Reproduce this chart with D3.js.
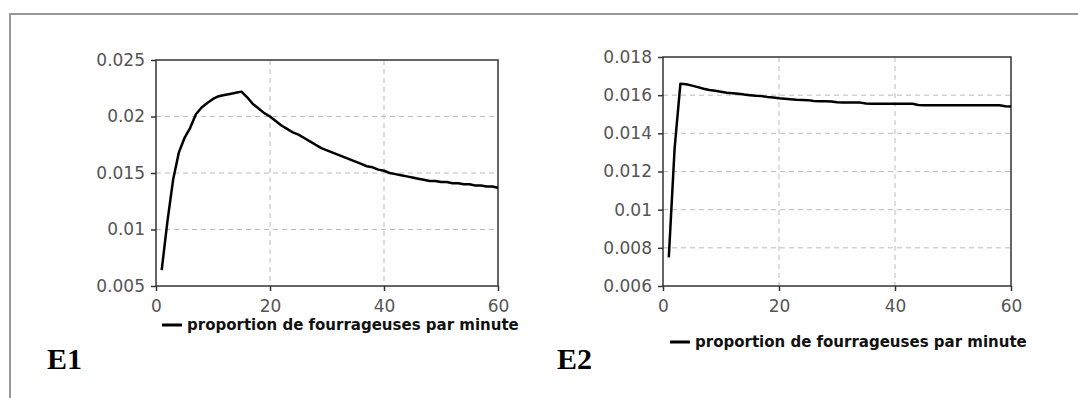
<!DOCTYPE html>
<html>
<head>
<meta charset="utf-8">
<script src="https://cdn.jsdelivr.net/npm/d3@7"></script>
<style>
  body { margin: 0; background: #fff; }
  .tick text { font-family: "DejaVu Sans", sans-serif; font-size: 17px; fill: #555; }
  .legend { font-family: "DejaVu Sans", sans-serif; font-size: 15px; font-weight: bold; fill: #111; }
  .tag { font-family: "Liberation Serif", serif; font-size: 30px; font-weight: bold; fill: #000; }
</style>
</head>
<body>
<div id="chart"></div>
<script>
// minutes 1..60
const minutes = [1,2,3,4,5,6,7,8,9,10,11,12,13,14,15,16,17,18,19,20,
  21,22,23,24,25,26,27,28,29,30,31,32,33,34,35,36,37,38,39,40,
  41,42,43,44,45,46,47,48,49,50,51,52,53,54,55,56,57,58,59,60];

// E1 : proportion de fourrageuses par minute
const e1Values = [0.0064,0.0107,0.0144,0.0168,0.0181,0.0190,0.0202,0.0208,0.0212,0.02155,
  0.0218,0.0219,0.0220,0.0221,0.0222,0.0217,0.0211,0.0207,0.0203,0.0200,
  0.0196,0.0192,0.0189,0.0186,0.0184,0.0181,0.0178,0.0175,0.0172,0.0170,
  0.0168,0.0166,0.0164,0.0162,0.0160,0.0158,0.0156,0.0155,0.0153,0.0152,
  0.0150,0.0149,0.0148,0.0147,0.0146,0.0145,0.0144,0.0143,0.0143,0.0142,
  0.0142,0.0141,0.0141,0.0140,0.0140,0.0139,0.0139,0.0138,0.0138,0.0137];

// E2 : proportion de fourrageuses par minute
const e2Values = [0.0075,0.0132,0.0166,0.01657,0.0165,0.01642,0.01634,0.01627,0.01623,0.01618,
  0.01613,0.0161,0.01607,0.01603,0.0160,0.01597,0.01595,0.01591,0.01588,0.01584,
  0.01581,0.01578,0.01576,0.01575,0.01574,0.0157,0.01568,0.01568,0.01567,0.01563,
  0.01562,0.01562,0.01561,0.01561,0.01556,0.01555,0.01555,0.01555,0.01555,0.01555,
  0.01555,0.01555,0.01555,0.01548,0.01547,0.01547,0.01547,0.01547,0.01547,0.01547,
  0.01547,0.01547,0.01547,0.01547,0.01547,0.01547,0.01547,0.01547,0.01542,0.0154];

const xTicks = [0, 20, 40, 60];
const yTicks1 = [0.005, 0.01, 0.015, 0.02, 0.025];
const yTicks2 = [0.006, 0.008, 0.01, 0.012, 0.014, 0.016, 0.018];
const legendLabel = "proportion de fourrageuses par minute";

const svg = d3.select('#chart').append('svg')
  .attr('width', 1078)
  .attr('height', 398);

// outer frame (top + left only)
svg.append('path')
  .attr('d', 'M10,398 V14 H1078')
  .attr('fill', 'none')
  .attr('stroke', '#999')
  .attr('stroke-width', 2);

function drawPanel(p) {
  let xScale = d3.scaleLinear().domain([0, 60]).range([p.left, p.right]);
  let yScale = d3.scaleLinear().domain(p.yDomain).range([p.bottom, p.top]);
  let fmt = d => String(+d.toFixed(3));

  let g = svg.append('g');

  //grid
  g.append('g').selectAll('line.gx')
    .data(xTicks.slice(1, -1))
    .enter().append('line')
    .attr('x1', d => xScale(d)).attr('x2', d => xScale(d))
    .attr('y1', p.top).attr('y2', p.bottom)
    .attr('stroke', '#bbb').attr('stroke-dasharray', '5,4');

  g.append('g').selectAll('line.gy')
    .data(p.yTicks.slice(1, -1))
    .enter().append('line')
    .attr('x1', p.left).attr('x2', p.right)
    .attr('y1', d => yScale(d)).attr('y2', d => yScale(d))
    .attr('stroke', '#bbb').attr('stroke-dasharray', '5,4');

  //axes
  let ax = g.append('g')
    .attr('transform', `translate(0,${p.bottom})`)
    .call(d3.axisBottom(xScale).tickValues(xTicks).tickSize(5).tickPadding(9).tickSizeOuter(0));
  let ay = g.append('g')
    .attr('transform', `translate(${p.left},0)`)
    .call(d3.axisLeft(yScale).tickValues(p.yTicks).tickFormat(fmt).tickSize(5).tickPadding(6).tickSizeOuter(0));
  [ax, ay].forEach(a => {
    a.select('.domain').remove();
    a.selectAll('.tick line').attr('stroke', '#333').attr('stroke-width', 1.5);
  });

  //box
  g.append('rect')
    .attr('x', p.left).attr('y', p.top)
    .attr('width', p.right - p.left).attr('height', p.bottom - p.top)
    .attr('fill', 'none').attr('stroke', '#333').attr('stroke-width', 1.5);

  //line
  let linePath = d3.line()
    .x((d, i) => xScale(minutes[i]))
    .y(d => yScale(d));
  g.append('path')
    .attr('d', linePath(p.values))
    .attr('fill', 'none')
    .attr('stroke', '#000')
    .attr('stroke-width', 2.5)
    .attr('stroke-linejoin', 'round');

  //legend
  g.append('line')
    .attr('x1', p.legendX).attr('x2', p.legendX + 20)
    .attr('y1', p.legendY).attr('y2', p.legendY)
    .attr('stroke', '#000').attr('stroke-width', 3);
  g.append('text')
    .attr('class', 'legend')
    .attr('x', p.legendX + 25).attr('y', p.legendY + 5)
    .text(legendLabel);

  g.append('text')
    .attr('class', 'tag')
    .attr('x', p.tagX).attr('y', 369)
    .text(p.tag);
}

drawPanel({
  left: 156, right: 498, top: 60, bottom: 286,
  yDomain: [0.005, 0.025], yTicks: yTicks1, values: e1Values,
  legendX: 162, legendY: 325, tag: 'E1', tagX: 47
});

drawPanel({
  left: 663, right: 1011, top: 57, bottom: 286,
  yDomain: [0.006, 0.018], yTicks: yTicks2, values: e2Values,
  legendX: 670, legendY: 342, tag: 'E2', tagX: 557
});
</script>
</body>
</html>
